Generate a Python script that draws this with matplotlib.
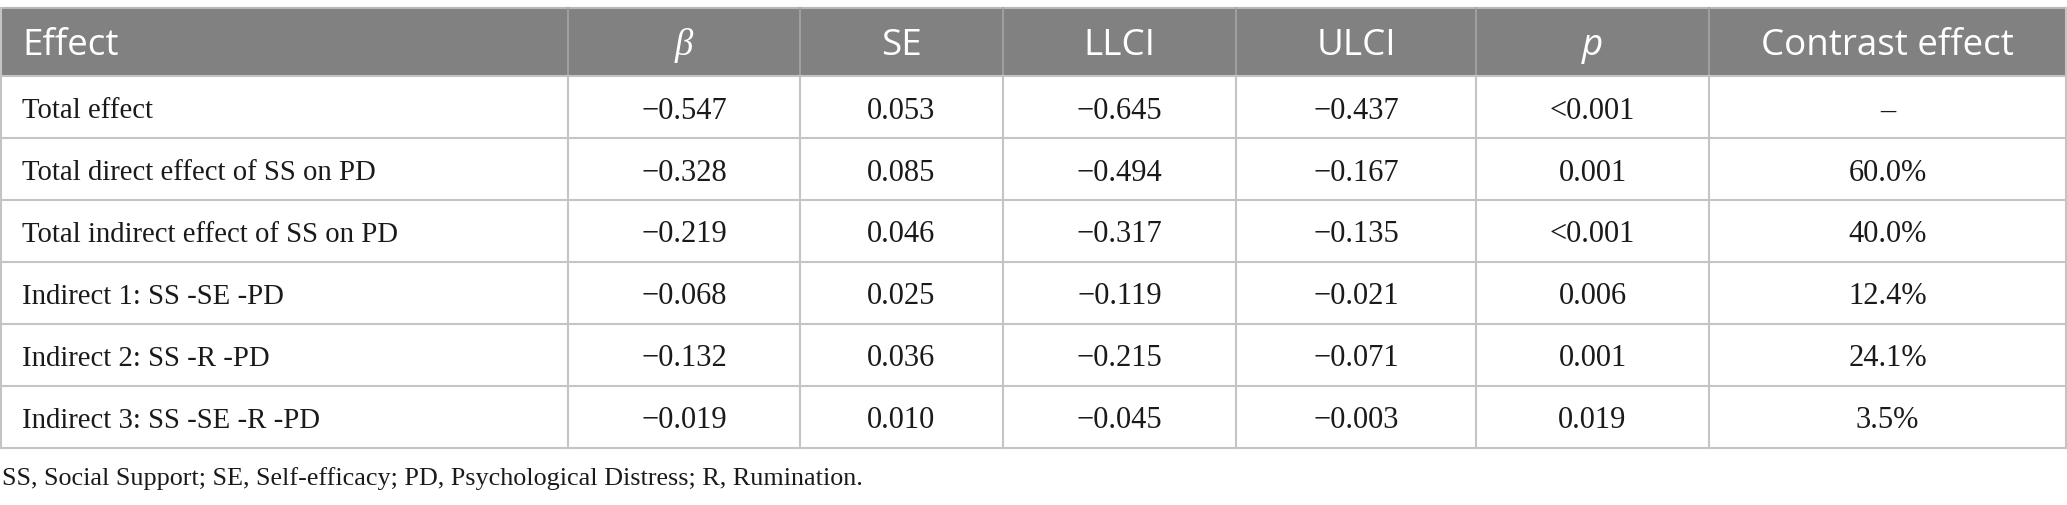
import matplotlib.pyplot as plt
from matplotlib.patches import Rectangle

# table content
headers = ["Effect", "β", "SE", "LLCI", "ULCI", "p", "Contrast effect"]
effects = [
    "Total effect",
    "Total direct effect of SS on PD",
    "Total indirect effect of SS on PD",
    "Indirect 1: SS -SE -PD",
    "Indirect 2: SS -R -PD",
    "Indirect 3: SS -SE -R -PD",
]
beta = [-0.547, -0.328, -0.219, -0.068, -0.132, -0.019]
se = [0.053, 0.085, 0.046, 0.025, 0.036, 0.010]
llci = [-0.645, -0.494, -0.317, -0.119, -0.215, -0.045]
ulci = [-0.437, -0.167, -0.135, -0.021, -0.071, -0.003]
p_vals = ["<0.001", "0.001", "<0.001", "0.006", "0.001", "0.019"]
contrast = ["–", "60.0%", "40.0%", "12.4%", "24.1%", "3.5%"]
footnote = "SS, Social Support; SE, Self-efficacy; PD, Psychological Distress; R, Rumination."


def fmt(v):
    return f"{v:.3f}".replace("-", "\u2212")


W, H = 2067, 506
fig = plt.figure(figsize=(W / 100, H / 100), dpi=100)
ax = fig.add_axes([0, 0, 1, 1])
ax.set_xlim(0, W)
ax.set_ylim(H, 0)
ax.axis("off")

col_x = [1, 568, 800, 1003, 1236, 1476, 1709, 2066]
head_top, head_bot = 8.5, 77
row_h = 62
n_rows = len(effects)
bottom = head_bot + row_h * n_rows

grid_col = "#c4c4c4"
head_col = "#808180"
text_col = "#1a1a1a"

# header band
ax.add_patch(Rectangle((col_x[0], head_top), col_x[-1] - col_x[0], head_bot - head_top,
                       facecolor=head_col, edgecolor="none"))
ax.plot([col_x[0], col_x[-1]], [head_top, head_top], color="#b8b8b8", lw=1.5)
for x in col_x[1:-1]:
    ax.plot([x, x], [head_top, head_bot], color="#a3a3a3", lw=1.3)

# body grid
for i in range(n_rows + 1):
    y = head_bot + i * row_h
    ax.plot([col_x[0], col_x[-1]], [y, y], color=grid_col, lw=1.5)
for x in col_x:
    ax.plot([x, x], [head_bot, bottom], color=grid_col, lw=1.5)
for x in (col_x[0], col_x[-1]):
    ax.plot([x, x], [head_top, head_bot], color=grid_col, lw=1.5)

# header text
head_y = (head_top + head_bot) / 2 + 3
for j, h in enumerate(headers):
    fam, style = "Open Sans", "normal"
    if h == "β":
        fam, style = "Liberation Serif", "italic"
    elif h == "p":
        style = "italic"
    if j == 0:
        x, ha = col_x[0] + 21, "left"
    else:
        x, ha = (col_x[j] + col_x[j + 1]) / 2, "center"
    ax.text(x, head_y, h, ha=ha, va="center", color="white",
            fontsize=26.5, family=fam, style=style)

# body text
columns = [
    [fmt(v) for v in beta],
    [fmt(v) for v in se],
    [fmt(v) for v in llci],
    [fmt(v) for v in ulci],
    p_vals,
    contrast,
]
for i in range(n_rows):
    y = head_bot + (i + 0.5) * row_h + 3
    ax.text(col_x[0] + 21, y, effects[i], ha="left", va="center", color=text_col,
            fontsize=20.7, family="Liberation Serif")
    for j, col in enumerate(columns):
        cx = (col_x[j + 1] + col_x[j + 2]) / 2
        ax.text(cx, y, col[i], ha="center", va="center", color=text_col,
                fontsize=22, family="Liberation Serif")

ax.text(2, 479, footnote, ha="left", va="center", color=text_col,
        fontsize=18.8, family="Liberation Serif")

fig.savefig("out.png", dpi=100)
